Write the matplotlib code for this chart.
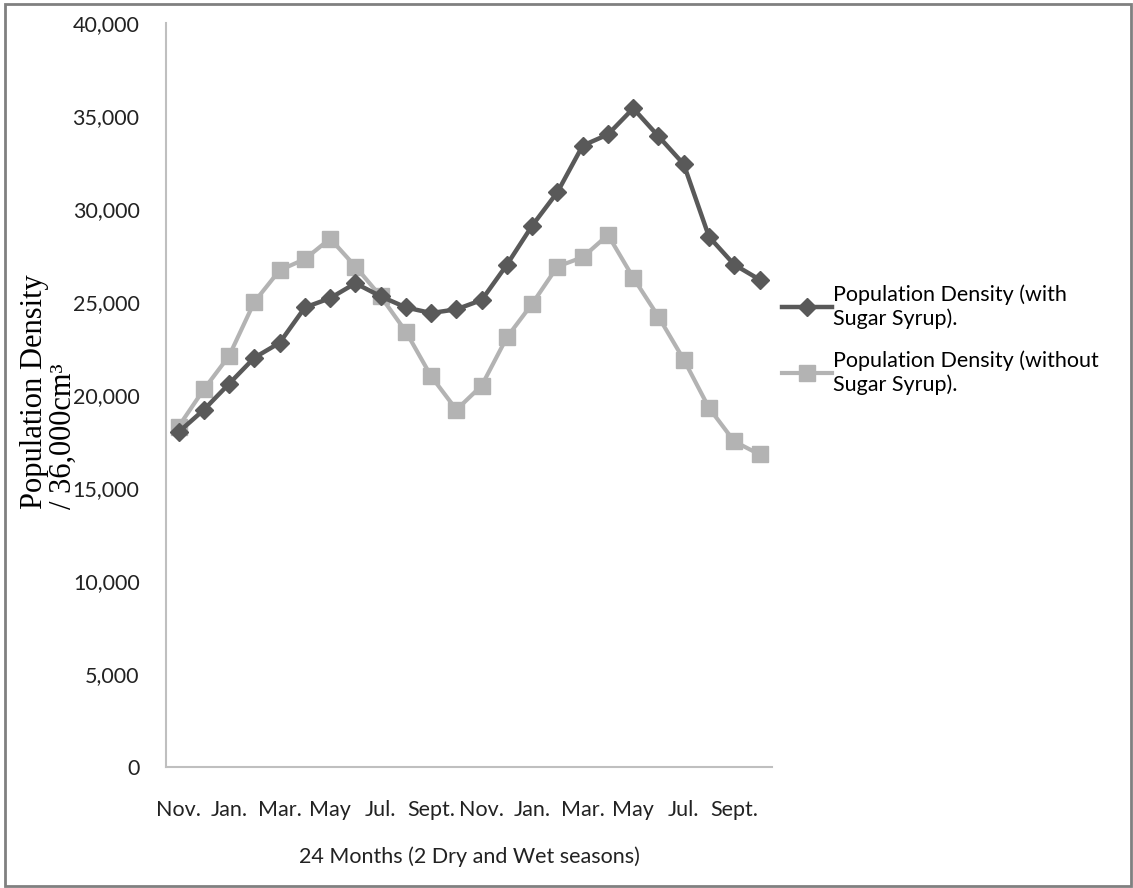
import matplotlib
matplotlib.use('Agg')
import matplotlib.pyplot as plt
from matplotlib.patches import Rectangle

plt.rcParams['font.family'] = ['Lato', 'DejaVu Sans']

# data
months = ['Nov.', 'Jan.', 'Mar.', 'May', 'Jul.', 'Sept.',
          'Nov.', 'Jan.', 'Mar.', 'May', 'Jul.', 'Sept.']
with_syrup = [18000, 19200, 20600, 22000, 22800, 24700, 25200, 26000,
              25300, 24700, 24400, 24600, 25100, 27000, 29100, 30900,
              33400, 34000, 35400, 33900, 32400, 28500, 27000, 26200]
without_syrup = [18300, 20300, 22100, 25000, 26700, 27300, 28400, 26900,
                 25300, 23400, 21000, 19200, 20500, 23100, 24900, 26900,
                 27400, 28600, 26300, 24200, 21900, 19300, 17500, 16800]

x = list(range(len(with_syrup)))

fig = plt.figure(figsize=(11.33, 8.88), dpi=100)
ax = fig.add_axes([0.1465, 0.1363, 0.535, 0.838])

ax.plot(x, with_syrup, color='#595959', lw=3.2, marker='D', ms=9,
        label='Population Density (with\nSugar Syrup).', zorder=3)
ax.plot(x, without_syrup, color='#b3b3b3', lw=3, marker='s', ms=12,
        label='Population Density (without\nSugar Syrup).', zorder=2)

ax.set_xlim(-0.5, len(x) - 0.5)
ax.set_ylim(0, 40000)
ax.set_yticks(range(0, 40001, 5000))
ax.set_yticklabels([f'{v:,}' for v in range(0, 40001, 5000)], fontsize=15.5, color='#222222')
ax.set_xticks(x[::2])
ax.set_xticklabels(months, fontsize=15.5, color='#222222')
ax.tick_params(length=0, pad=19, axis='y')
ax.tick_params(length=0, pad=24, axis='x')

for s in ['top', 'right']:
    ax.spines[s].set_visible(False)
for s in ['left', 'bottom']:
    ax.spines[s].set_color('#bfbfbf')
    ax.spines[s].set_linewidth(1.5)

ax.set_xlabel('24 Months (2 Dry and Wet seasons)', fontsize=15.5, labelpad=19, color='#222222')
ax.set_ylabel('Population Density\n/ 36,000cm³', fontsize=22,
              family='Liberation Serif', linespacing=0.98, multialignment='left')
ax.yaxis.set_label_coords(-0.146, 0.505)

ax.legend(loc='upper left', bbox_to_anchor=(0.985, 0.675), frameon=False,
          fontsize=15.5, handlelength=2.3, handletextpad=0.05, labelspacing=1.0)

fig.patches.append(Rectangle((0.004, 0.002), 0.994, 0.993, transform=fig.transFigure,
                             fill=False, edgecolor='#808080', lw=2))

fig.savefig('out.png', dpi=100)
